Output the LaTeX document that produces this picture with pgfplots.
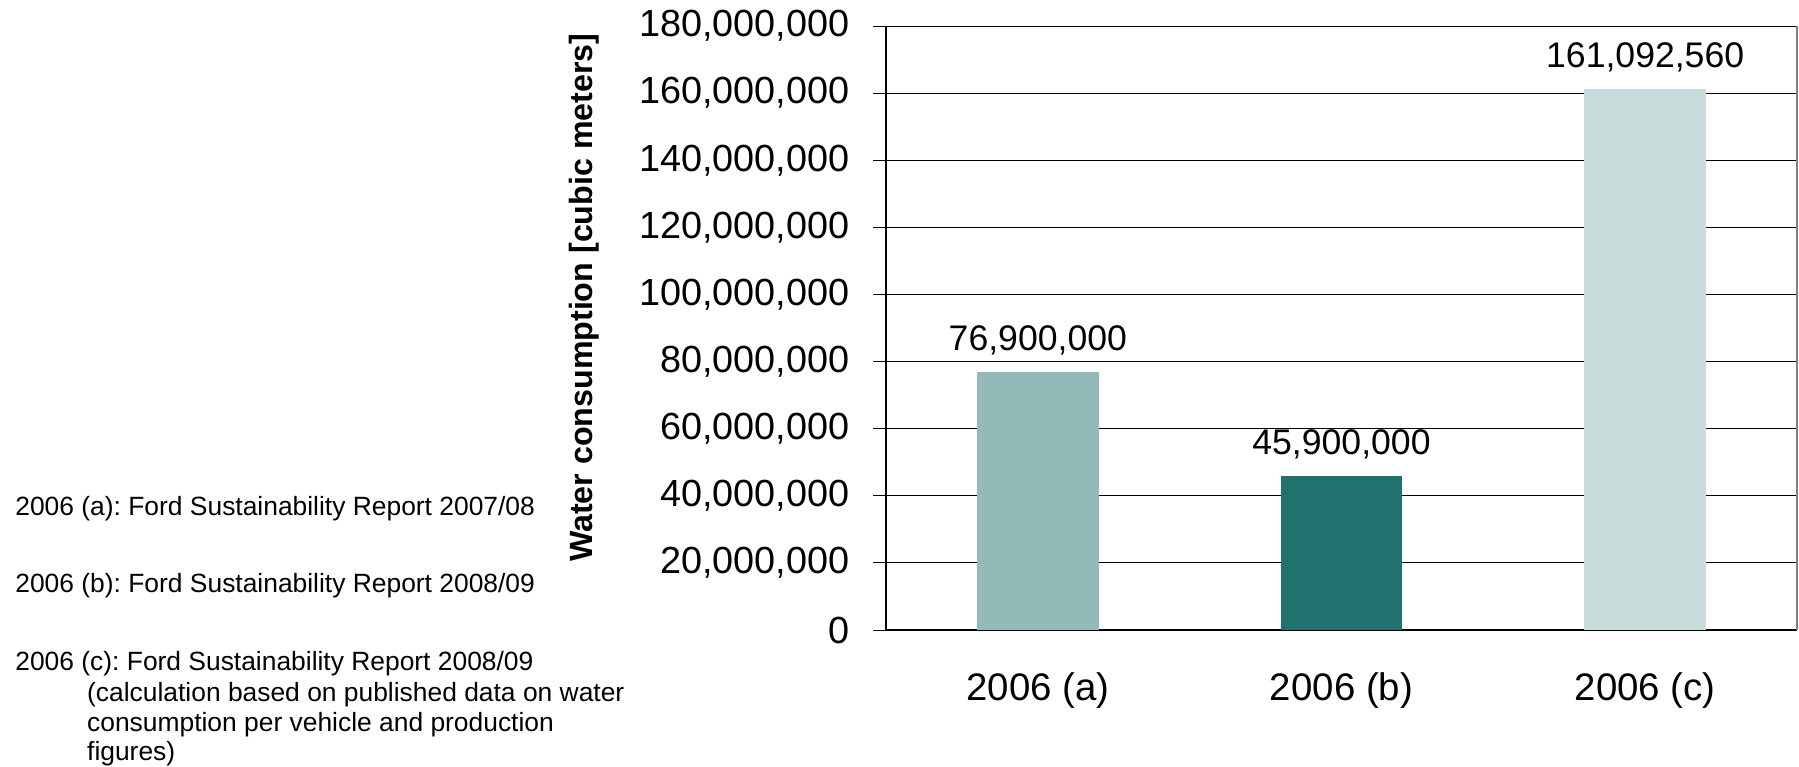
\documentclass[border=0pt]{standalone}
\usepackage{pgfplots}
\pgfplotsset{compat=1.18}
\usepackage{fontspec}
\setmainfont{Liberation Sans}
\frenchspacing
\definecolor{barA}{RGB}{147,185,184}
\definecolor{barB}{RGB}{33,113,111}
\definecolor{barC}{RGB}{199,220,219}
\begin{document}
\begin{tikzpicture}
\path[use as bounding box] (-443pt,-68pt) rectangle (456.5pt,315pt);
\begin{axis}[
  at={(0pt,0pt)}, anchor=south west,
  scale only axis, width=455.5pt, height=302pt,
  xmin=-0.5, xmax=2.5, ymin=0, ymax=180000000,
  axis y line*=left, axis x line*=bottom,
  axis line style={black, line width=0.75pt},
  ybar, bar width=0.4,
  clip=false,
  scaled y ticks=false,
  ytick={0,20000000,40000000,60000000,80000000,100000000,120000000,140000000,160000000,180000000},
  yticklabels={0,{20,000,000},{40,000,000},{60,000,000},{80,000,000},{100,000,000},{120,000,000},{140,000,000},{160,000,000},{180,000,000}},
  yticklabel style={font=\fontsize{18.9}{22}\selectfont, anchor=east, inner sep=0pt, xshift=-11.5pt},
  ymajorgrids=true,
  major grid style={black, line width=0.5pt},
  tick align=outside,
  major tick length=6.5pt,
  tick style={black, line width=0.5pt},
  xtick={0,1,2},
  xticklabels={2006 (a),2006 (b),2006 (c)},
  x tick style={draw=none},
  xticklabel style={font=\fontsize{19.2}{22}\selectfont, anchor=north, inner sep=0pt, yshift=-14.5pt},
  extra x ticks={-0.5,0.5,1.5,2.5},
  extra x tick labels={},
  extra x tick style={grid=none, tick style={draw=black, line width=0.5pt}, major tick length=6pt},
  ylabel={Water consumption [cubic meters]},
  ylabel style={font=\fontsize{16.1}{18}\selectfont\bfseries, at={(axis description cs:-0.331,0.55)}, anchor=center},
  point meta=explicit symbolic,
  nodes near coords,
  every node near coord/.append style={font=\fontsize{17.8}{20}\selectfont, anchor=base, inner sep=0pt, yshift=10.8pt, text=black},
]
\addplot[fill=barA, draw=none, bar shift=0] coordinates {(0,76900000) [76,900,000]};
\addplot[fill=barB, draw=none, bar shift=0] coordinates {(1,45900000) [45,900,000]};
\addplot[fill=barC, draw=none, bar shift=0] coordinates {(2,161092560) [161,092,560]};
\draw[gray, line width=0.75pt] (rel axis cs:1,0) -- (rel axis cs:1,1);
\end{axis}
\begin{scope}[every node/.style={font=\fontsize{13.2}{15}\selectfont, inner sep=0pt, anchor=base west}]
\node at (-435.5pt,57pt) {2006 (a): Ford Sustainability Report 2007/08};
\node at (-435.5pt,19pt) {2006 (b): Ford Sustainability Report 2008/09};
\node at (-435.5pt,-20pt) {2006 (c): Ford Sustainability Report 2008/09};
\node at (-399.6pt,-35.5pt) {(calculation based on published data on water};
\node at (-399.6pt,-50.5pt) {consumption per vehicle and production};
\node at (-399.6pt,-65pt) {figures)};
\end{scope}
\end{tikzpicture}
\end{document}
